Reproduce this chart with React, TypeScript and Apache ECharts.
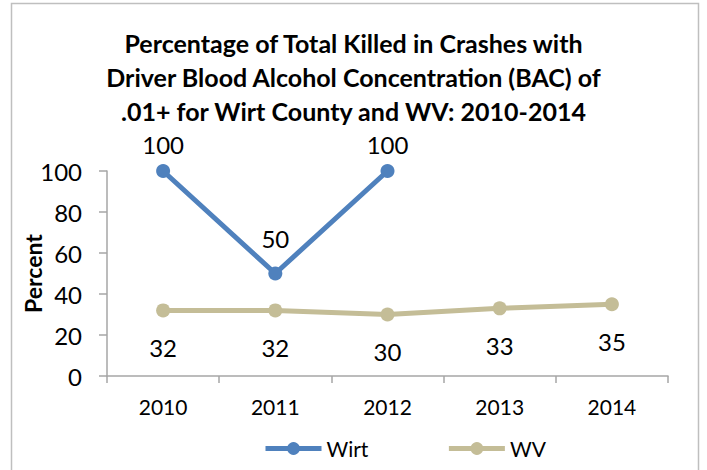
import React, { useEffect, useRef } from "react";
import * as echarts from "echarts";

const categories = ["2010", "2011", "2012", "2013", "2014"];
const wirtValues: (number | null)[] = [100, 50, 100, null, null];
const wvValues = [32, 32, 30, 33, 35];
const yTicks = { min: 0, max: 100, interval: 20 };
const titleText =
  "Percentage of Total Killed in Crashes with\nDriver Blood Alcohol Concentration (BAC) of\n.01+ for Wirt County and WV: 2010-2014";

const FONT = "Lato, 'Open Sans', sans-serif";

export default function App() {
  const ref = useRef<HTMLDivElement>(null);
  useEffect(() => {
    if (!ref.current) return;
    const chart = echarts.init(ref.current, undefined, { renderer: "svg" });
    chart.setOption({
      animation: false,
      backgroundColor: "#ffffff",
      textStyle: { fontFamily: FONT },
      graphic: [
        {
          type: "rect",
          shape: { x: 11.5, y: 3.5, width: 687, height: 480 },
          style: { fill: "none", stroke: "#bfbfbf", lineWidth: 1.5 },
          silent: true,
        },
      ],
      title: {
        text: titleText,
        left: "center",
        top: 21,
        textStyle: {
          fontFamily: FONT,
          fontWeight: "bold",
          fontSize: 25,
          lineHeight: 34,
          color: "#000",
        },
      },
      legend: {
        top: 433,
        left: 258,
        itemWidth: 56,
        itemHeight: 16,
        itemGap: 78,
        textStyle: { fontFamily: FONT, fontSize: 21, color: "#000" },
        lineStyle: { width: 5 },
        data: ["Wirt", "WV"],
      },
      grid: { left: 107, right: 39, top: 171, bottom: 94 },
      xAxis: {
        type: "category",
        data: categories,
        boundaryGap: true,
        axisLine: { lineStyle: { color: "#a6a6a6", width: 1.5 } },
        axisTick: { show: true, length: 7, lineStyle: { color: "#a6a6a6", width: 1.5 } },
        axisLabel: { fontFamily: FONT, fontSize: 21, color: "#000", margin: 20 },
      },
      yAxis: {
        type: "value",
        min: yTicks.min,
        max: yTicks.max,
        interval: yTicks.interval,
        name: "Percent",
        nameLocation: "middle",
        nameGap: 63,
        nameMoveOverlap: false,
        nameRotate: 90,
        nameTextStyle: { fontFamily: FONT, fontWeight: "bold", fontSize: 23, color: "#000" },
        axisLine: { show: true, lineStyle: { color: "#a6a6a6", width: 1.5 } },
        axisTick: { show: true, length: 8, lineStyle: { color: "#a6a6a6", width: 1.5 } },
        splitLine: { show: false },
        axisLabel: { fontFamily: FONT, fontSize: 24, color: "#000", margin: 25 },
      },
      series: [
        {
          name: "Wirt",
          type: "line",
          data: wirtValues.map((v) => ({
            value: v,
            label: { distance: v === yTicks.max ? 8 : 16 },
          })),
          connectNulls: false,
          symbol: "circle",
          symbolSize: 14,
          color: "#4F81BD",
          lineStyle: { width: 5, color: "#4F81BD" },
          itemStyle: { color: "#4F81BD" },
          label: {
            show: true,
            position: "top",
            fontFamily: FONT,
            fontSize: 24,
            color: "#000",
          },
        },
        {
          name: "WV",
          type: "line",
          data: wvValues,
          symbol: "circle",
          symbolSize: 14,
          color: "#C4BD97",
          lineStyle: { width: 5, color: "#C4BD97" },
          itemStyle: { color: "#C4BD97" },
          label: {
            show: true,
            position: "bottom",
            distance: 18,
            fontFamily: FONT,
            fontSize: 24,
            color: "#000",
          },
        },
      ],
    });
    return () => chart.dispose();
  }, []);
  return <div ref={ref} style={{ width: 707, height: 470, position: "absolute", left: 0, top: 0 }} />;
}
